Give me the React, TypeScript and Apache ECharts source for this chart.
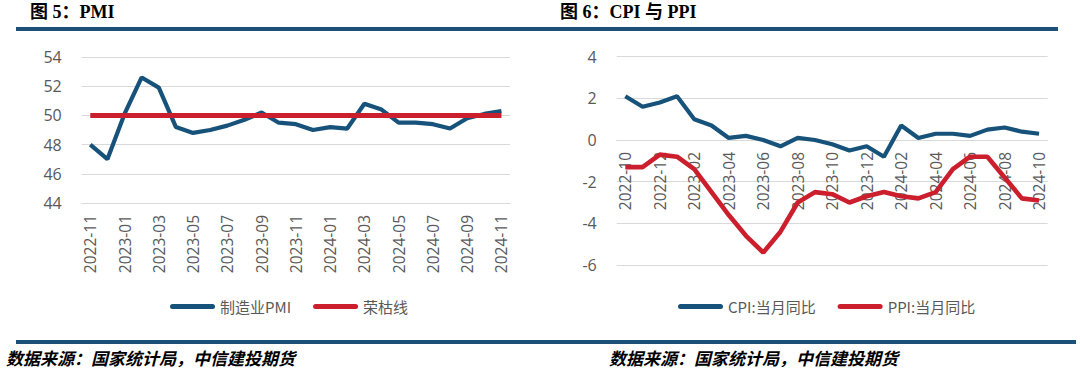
import React, { useEffect, useRef } from "react";
import * as echarts from "echarts";

const pmiMonths = [
  "2022-11","2022-12","2023-01","2023-02","2023-03","2023-04","2023-05","2023-06","2023-07","2023-08","2023-09","2023-10","2023-11","2023-12",
  "2024-01","2024-02","2024-03","2024-04","2024-05","2024-06","2024-07","2024-08","2024-09","2024-10","2024-11",
];
const pmiValues = [48.0,47.0,50.1,52.6,51.9,49.2,48.8,49.0,49.3,49.7,50.2,49.5,49.4,49.0,49.2,49.1,50.8,50.4,49.5,49.5,49.4,49.1,49.8,50.1,50.3];
const boomLine = [50,50,50,50,50,50,50,50,50,50,50,50,50,50,50,50,50,50,50,50,50,50,50,50,50];

const cpiMonths = [
  "2022-10","2022-11","2022-12","2023-01","2023-02","2023-03","2023-04","2023-05","2023-06","2023-07","2023-08","2023-09","2023-10","2023-11","2023-12",
  "2024-01","2024-02","2024-03","2024-04","2024-05","2024-06","2024-07","2024-08","2024-09","2024-10",
];
const cpiValues = [2.1,1.6,1.8,2.1,1.0,0.7,0.1,0.2,0.0,-0.3,0.1,0.0,-0.2,-0.5,-0.3,-0.8,0.7,0.1,0.3,0.3,0.2,0.5,0.6,0.4,0.3];
const ppiValues = [-1.3,-1.3,-0.7,-0.8,-1.4,-2.5,-3.6,-4.6,-5.4,-4.4,-3.0,-2.5,-2.6,-3.0,-2.7,-2.5,-2.7,-2.8,-2.5,-1.4,-0.8,-0.8,-1.8,-2.8,-2.9];

const BLUE = "#17527b";
const RED = "#cc1f2e";
const GRID = "#d9d9d9";
const LABEL = "#595959";
const LEGEND_ICON = "path://M2.5,0 L42.5,0 A2.5,2.5 0 0 1 42.5,5 L2.5,5 A2.5,2.5 0 0 1 2.5,0 Z";
const NUM_FONT = '"Open Sans", sans-serif';
const CJK_FONT = '"Noto Sans CJK SC", sans-serif';

// grid 1 spans -6..4 over 208.3px; zero sits 125px above the bottom edge
function xAxisCfg(gridIndex: number, data: string[], offset: number) {
  return {
    gridIndex,
    type: "category",
    data,
    boundaryGap: true,
    offset,
    axisLine: { onZero: false, lineStyle: { color: GRID, width: 1 } },
    axisTick: { interval: 1, length: 6, lineStyle: { color: GRID } },
    axisLabel: { interval: 1, rotate: 90, margin: 12, color: LABEL, fontSize: 15.5, fontFamily: NUM_FONT },
  };
}

function yAxisCfg(gridIndex: number, min: number, max: number) {
  return {
    gridIndex,
    type: "value",
    min,
    max,
    interval: 2,
    axisLine: { show: false },
    axisTick: { show: false },
    axisLabel: { margin: 20, color: LABEL, fontSize: 16, fontFamily: NUM_FONT },
    splitLine: { lineStyle: { color: GRID, width: 1 } },
  };
}

function legendCfg(left: number, names: string[]) {
  return {
    data: names,
    left,
    top: 294,
    itemWidth: 45,
    itemHeight: 5,
    itemGap: 22,
    icon: LEGEND_ICON,
    textStyle: { fontSize: 15, color: LABEL, fontFamily: CJK_FONT },
  };
}

export default function App() {
  const ref = useRef<HTMLDivElement>(null);
  useEffect(() => {
    if (!ref.current) return;
    const chart = echarts.init(ref.current, undefined, { renderer: "svg" });
    const titleFont = '"Liberation Serif", "Noto Sans CJK SC", serif';
    chart.setOption({
      animation: false,
      backgroundColor: "#ffffff",
      grid: [
        { left: 81.7, right: 570, top: 57, bottom: 169 },
        { left: 616.7, right: 32.3, top: 56.7, bottom: 107 },
      ],
      xAxis: [xAxisCfg(0, pmiMonths, 0), xAxisCfg(1, cpiMonths, -125)],
      yAxis: [yAxisCfg(0, 44, 54), yAxisCfg(1, -6, 4)],
      legend: [
        legendCfg(165, ["制造业PMI", "荣枯线"]),
        legendCfg(673, ["CPI:当月同比", "PPI:当月同比"]),
      ],
      series: [
        { name: "制造业PMI", type: "line", xAxisIndex: 0, yAxisIndex: 0, data: pmiValues, symbol: "none", color: BLUE, lineStyle: { width: 4.2, color: BLUE }, z: 3 },
        { name: "荣枯线", type: "line", xAxisIndex: 0, yAxisIndex: 0, data: boomLine, symbol: "none", color: RED, lineStyle: { width: 5, color: RED }, z: 4 },
        { name: "CPI:当月同比", type: "line", xAxisIndex: 1, yAxisIndex: 1, data: cpiValues, symbol: "none", color: BLUE, lineStyle: { width: 4.2, color: BLUE }, z: 3 },
        { name: "PPI:当月同比", type: "line", xAxisIndex: 1, yAxisIndex: 1, data: ppiValues, symbol: "none", color: RED, lineStyle: { width: 4.6, color: RED }, z: 4 },
      ],
      graphic: [
        { type: "text", left: 30, top: 3, style: { text: "图 5：PMI", font: `bold 18px ${titleFont}`, fill: "#000" } },
        { type: "text", left: 560, top: 3, style: { text: "图 6：CPI 与 PPI", font: `bold 18px ${titleFont}`, fill: "#000" } },
        { type: "rect", shape: { x: 16, y: 27, width: 1042, height: 4 }, style: { fill: "#1c5079" } },
        { type: "rect", shape: { x: 16, y: 340, width: 1060, height: 4 }, style: { fill: "#1c5079" } },
        { type: "text", left: 6, top: 349, style: { text: "数据来源：国家统计局，中信建投期货", font: `italic bold 17px ${CJK_FONT}`, fill: "#000" } },
        { type: "text", left: 609, top: 349, style: { text: "数据来源：国家统计局，中信建投期货", font: `italic bold 17px ${CJK_FONT}`, fill: "#000" } },
      ],
    });
    return () => chart.dispose();
  }, []);
  return (
    <div
      ref={ref}
      style={{ position: "fixed", left: 0, top: 0, width: 1080, height: 372, background: "#fff" }}
    />
  );
}
